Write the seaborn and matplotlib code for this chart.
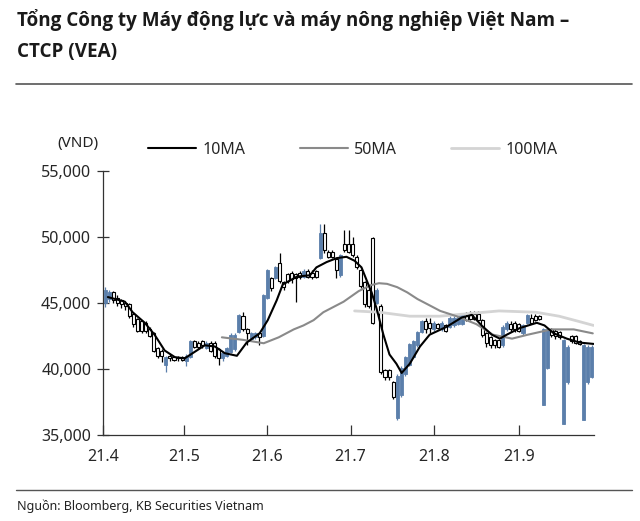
import numpy as np
import pandas as pd
import matplotlib
matplotlib.use("Agg")
import matplotlib.pyplot as plt
import seaborn as sns

# Dữ liệu nến (nghìn đồng)
gia_mo = [45.0, 45.3, 45.8, 45.4, 45.2, 45.0, 44.9, 44.2, 43.8, 43.6,
          43.5, 43.0, 42.7, 41.6, 41.4, 40.3, 41.0, 40.9, 40.9, 40.9,
          40.6, 40.9, 42.1, 42.0, 42.1, 41.6, 42.0, 42.0, 41.5, 40.8,
          41.0, 41.3, 41.5, 42.8, 44.0, 43.0, 42.3, 42.4, 42.7, 42.5,
          45.4, 46.9, 46.9, 48.0, 46.6, 47.2, 47.3, 47.2, 47.3, 47.0,
          47.4, 47.3, 47.4, 48.4, 50.3, 48.9, 48.9, 48.3, 47.1, 49.5,
          49.5, 49.5, 48.5, 47.5, 46.6, 46.0, 49.9, 45.0, 44.8, 39.9,
          39.9, 39.0, 36.3, 38.0, 39.6, 40.3, 40.9, 41.8, 42.8, 43.6,
          43.5, 43.0, 43.4, 43.0, 43.3, 43.2, 43.3, 43.4, 43.4, 44.0,
          44.2, 44.2, 44.2, 43.7, 42.7, 42.4, 42.2, 42.2, 41.8, 43.0,
          43.4, 43.5, 43.4, 42.7, 43.5, 43.9, 44.0, 44.0, 37.3, 40.1,
          43.0, 42.9, 42.8, 35.8, 39.0, 42.5, 42.5, 42.1, 36.1, 39.0,
          39.4]
gia_cao = [46.2, 46.0, 45.9, 45.6, 45.3, 45.1, 45.0, 44.3, 43.9, 43.7,
           43.6, 43.2, 42.8, 41.7, 41.5, 41.0, 41.1, 41.0, 41.0, 41.0,
           41.1, 42.2, 42.2, 42.1, 42.2, 42.1, 42.1, 42.1, 41.6, 41.3,
           41.7, 42.7, 42.7, 44.2, 44.3, 43.1, 42.8, 42.8, 42.8, 45.7,
           47.6, 47.0, 47.8, 48.8, 46.7, 47.3, 47.4, 47.3, 47.4, 47.6,
           47.6, 47.5, 47.5, 51.0, 51.0, 49.0, 49.0, 48.4, 48.7, 50.5,
           50.5, 50.0, 48.6, 47.6, 46.7, 46.1, 50.0, 46.1, 44.9, 40.0,
           40.0, 39.1, 39.6, 40.2, 41.0, 42.0, 42.2, 42.9, 43.7, 43.9,
           43.9, 43.6, 43.5, 43.6, 43.4, 44.0, 44.0, 44.2, 44.2, 44.3,
           44.4, 44.4, 44.4, 43.8, 42.8, 42.5, 42.3, 42.3, 43.3, 43.6,
           43.6, 43.6, 43.5, 43.4, 44.2, 44.2, 44.2, 44.1, 43.1, 43.1,
           43.1, 43.0, 42.9, 42.3, 41.8, 42.6, 42.6, 42.2, 41.9, 41.8,
           41.8]
gia_thap = [44.7, 45.1, 45.0, 44.8, 44.6, 44.5, 43.9, 43.2, 42.8, 42.7,
            42.7, 42.4, 41.3, 40.8, 40.5, 39.8, 40.6, 40.6, 40.6, 40.6,
            40.2, 40.8, 41.6, 41.5, 41.6, 41.5, 41.3, 40.8, 40.3, 40.6,
            40.9, 41.2, 41.4, 42.7, 42.9, 41.8, 42.2, 42.3, 41.8, 42.4,
            45.3, 45.9, 46.8, 46.5, 46.0, 46.5, 46.5, 45.1, 46.8, 46.9,
            46.9, 46.8, 46.9, 48.3, 48.8, 48.4, 48.4, 46.9, 47.0, 48.9,
            48.8, 48.5, 47.6, 46.1, 44.7, 44.6, 43.4, 44.9, 39.6, 39.2,
            39.2, 37.7, 36.1, 37.9, 39.5, 40.2, 40.8, 41.7, 42.7, 42.7,
            42.7, 42.9, 43.0, 42.9, 42.8, 43.1, 43.2, 43.3, 43.3, 43.6,
            43.7, 43.7, 43.6, 42.4, 41.7, 41.6, 41.6, 41.6, 41.7, 42.9,
            42.8, 42.8, 42.8, 42.6, 43.4, 43.4, 43.6, 43.7, 37.3, 40.0,
            42.4, 42.3, 42.3, 35.8, 38.9, 42.0, 41.9, 41.8, 36.1, 38.9,
            39.3]
gia_dong = [46.0, 45.8, 45.2, 45.0, 44.9, 44.8, 44.0, 43.4, 42.9, 42.9,
            42.9, 42.5, 41.4, 41.0, 41.0, 40.9, 40.8, 40.7, 40.8, 40.7,
            41.0, 42.1, 41.7, 41.7, 41.8, 42.0, 41.4, 41.0, 40.8, 41.2,
            41.6, 42.6, 42.6, 44.1, 43.0, 42.7, 42.7, 42.7, 42.4, 45.6,
            47.5, 46.1, 47.7, 46.7, 46.2, 46.7, 46.8, 46.9, 47.0, 47.4,
            47.0, 47.0, 47.0, 50.3, 49.0, 48.5, 48.5, 47.5, 48.6, 49.0,
            48.9, 48.6, 47.7, 46.3, 44.9, 44.8, 43.5, 46.0, 39.8, 39.4,
            39.4, 37.9, 39.5, 40.1, 40.9, 41.9, 42.1, 42.8, 43.6, 43.0,
            43.1, 43.5, 43.1, 43.5, 42.9, 43.9, 43.9, 44.1, 44.1, 43.7,
            43.8, 43.8, 43.7, 42.6, 42.0, 41.8, 41.8, 41.7, 43.2, 43.5,
            43.0, 43.0, 42.9, 43.3, 44.1, 43.5, 43.7, 43.8, 43.0, 43.0,
            42.6, 42.5, 42.4, 42.2, 41.7, 42.1, 42.0, 41.9, 41.8, 41.7,
            41.7]

# Đường trung bình động: (vị trí phiên, giá trị)
ma10_x = [0.7, 4.9, 6.8, 9.8, 12.2, 14.7, 17.2, 19.6, 22.1, 24.6,
          27.1, 29.5, 32.5, 34.9, 38.1, 40.1, 42.3, 43.8, 47.3, 50.5,
          52.1, 54.6, 57.1, 59.5, 61.5, 63.2, 64.5, 65.7, 66.9, 68.6,
          70.1, 71.8, 73.1, 75.1, 77.6, 80.0, 84.2, 87.9, 90.4, 92.8,
          95.3, 97.3, 99.0, 102.2, 106.4, 108.3, 110.6, 113.8, 117.0, 120.4]
ma10_y = [45.45, 45.1, 44.3, 43.5, 42.6, 41.4, 40.9, 40.8, 41.3, 41.8,
          41.7, 41.2, 41.0, 42.0, 42.7, 43.7, 45.2, 46.4, 47.0, 47.1,
          47.7, 48.1, 48.4, 48.5, 48.2, 47.7, 46.7, 45.8, 44.6, 42.6,
          41.1, 40.4, 39.7, 40.4, 41.7, 42.6, 43.2, 43.9, 44.1, 43.3,
          42.6, 42.3, 42.6, 43.1, 43.5, 43.3, 42.7, 42.3, 42.0, 41.9]
ma50_x = [28.8, 34.2, 39.1, 42.8, 46.5, 48.9, 51.4, 53.8, 58.8, 62.5,
          65.5, 67.5, 69.5, 72.0, 74.5, 77.0, 79.5, 82.6, 86.6, 91.5,
          95.6, 100.3, 104.2, 110.0, 115.5, 120.2]
ma50_y = [42.4, 42.2, 41.95, 42.4, 43.0, 43.3, 43.7, 44.3, 45.1, 45.9,
          46.35, 46.5, 46.45, 46.2, 45.8, 45.3, 44.9, 44.4, 44.0, 43.4,
          42.6, 42.3, 42.6, 43.0, 43.0, 42.7]
ma100_x = [61.5, 67.6, 75.1, 82.4, 89.8, 97.1, 106.2, 111.9, 116.8, 120.4]
ma100_y = [44.4, 44.3, 44.0, 44.0, 44.2, 44.4, 44.3, 44.0, 43.6, 43.3]

nhan_truc_x = ["21.4", "21.5", "21.6", "21.7", "21.8", "21.9"]
vi_tri_nhan_x = [-0.5, 19.5, 40, 60.5, 81, 102]

df = pd.DataFrame({"mo": gia_mo, "cao": gia_cao, "thap": gia_thap, "dong": gia_dong})
df[["mo", "cao", "thap", "dong"]] *= 1000
df["phien"] = np.arange(len(df))
df["tang"] = df["dong"] >= df["mo"]

sns.set_theme(style="white")
plt.rcParams['font.family'] = ['Noto Sans', 'DejaVu Sans']

mau_xanh = "#5b7fab"

fig = plt.figure(figsize=(6.4, 5.21), dpi=100)
ax = fig.add_axes([103 / 640, 1 - 435 / 521, 491 / 640, 264 / 521])

# Râu nến
mau_rau = np.where(df["tang"], mau_xanh, "black")
ax.vlines(df["phien"], df["thap"], df["cao"], colors=mau_rau, linewidth=0.9, zorder=2)

# Thân nến
than_duoi = df[["mo", "dong"]].min(axis=1)
than_cao = (df["dong"] - df["mo"]).abs().clip(lower=60)
tang = df["tang"]
ax.bar(df["phien"][tang], than_cao[tang], bottom=than_duoi[tang], width=0.75,
       color=mau_xanh, edgecolor=mau_xanh, linewidth=0.6, zorder=3)
ax.bar(df["phien"][~tang], than_cao[~tang], bottom=than_duoi[~tang], width=0.75,
       color="white", edgecolor="black", linewidth=0.8, zorder=3)

# Các đường MA
sns.lineplot(x=ma100_x, y=np.array(ma100_y) * 1000, ax=ax, color="#d4d4d4",
             linewidth=2.0, label="100MA", zorder=4)
sns.lineplot(x=ma50_x, y=np.array(ma50_y) * 1000, ax=ax, color="#8a8a8a",
             linewidth=1.5, label="50MA", zorder=5)
sns.lineplot(x=ma10_x, y=np.array(ma10_y) * 1000, ax=ax, color="black",
             linewidth=1.5, label="10MA", zorder=6)

ax.set_xlim(-0.5, 120.5)
ax.set_ylim(35000, 55000)
ax.set_yticks([35000, 40000, 45000, 50000, 55000])
ax.set_yticklabels([f"{v:,}" for v in [35000, 40000, 45000, 50000, 55000]])
ax.set_xticks(vi_tri_nhan_x)
ax.set_xticklabels(nhan_truc_x)
ax.tick_params(axis="y", direction="inout", length=9, width=0.9, color="#333333",
               labelsize=11.5, pad=4, left=True)
ax.tick_params(axis="x", direction="in", length=7, width=0.9, color="#333333",
               labelsize=11.5, pad=10, bottom=True)
for s in ["top", "right"]:
    ax.spines[s].set_visible(False)
for s in ["left", "bottom"]:
    ax.spines[s].set_color("#333333")
    ax.spines[s].set_linewidth(0.9)
ax.set_xlabel("")
ax.set_ylabel("")

h, l = ax.get_legend_handles_labels()
thu_tu = [2, 1, 0]
ax.legend([h[i] for i in thu_tu], [l[i] for i in thu_tu], ncol=3, frameon=False,
          loc="center", bbox_to_anchor=(353 / 640, (521 - 150) / 521), bbox_transform=fig.transFigure,
          fontsize=11.5, handlelength=3.0, columnspacing=3.4, handletextpad=0.4)

fig.text(57 / 640, 1 - 143 / 521, "(VND)", fontsize=11, va="center", ha="left", color="#222222")

# Tiêu đề và nguồn
font_tieu_de = ['Open Sans', 'DejaVu Sans']
fig.text(17 / 640, 1 - 20 / 521, "Tổng Công ty Máy động lực và máy nông nghiệp Việt Nam –",
         fontsize=13.6, fontweight="bold", family=font_tieu_de, va="center", ha="left", color="#1a1a1a")
fig.text(17 / 640, 1 - 52 / 521, "CTCP (VEA)",
         fontsize=13.6, fontweight="bold", family=font_tieu_de, va="center", ha="left", color="#1a1a1a")
fig.add_artist(plt.Line2D([16 / 640, 632 / 640], [1 - 84 / 521, 1 - 84 / 521],
                          color="#555555", linewidth=1.2))
fig.add_artist(plt.Line2D([16 / 640, 632 / 640], [1 - 490 / 521, 1 - 490 / 521],
                          color="#555555", linewidth=1.0))
fig.text(17 / 640, 1 - 506 / 521, "Nguồn: Bloomberg, KB Securities Vietnam",
         fontsize=9, va="center", ha="left", color="#222222")

fig.savefig("out.png", dpi=100)
